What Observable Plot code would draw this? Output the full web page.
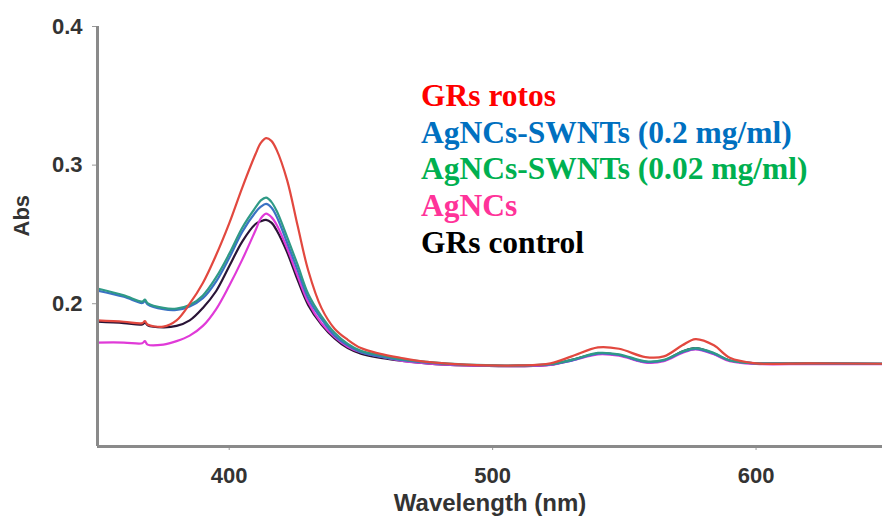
<!DOCTYPE html>
<html>
<head>
<meta charset="utf-8">
<script src="https://cdn.jsdelivr.net/npm/d3@7"></script>
<script src="https://cdn.jsdelivr.net/npm/@observablehq/plot@0.6"></script>
<style>
  html, body { margin: 0; padding: 0; background: #fff; }
  #wrap { position: relative; width: 882px; height: 519px; }
  #legend { position: absolute; left: 421px; top: 78px; font-family: "Liberation Serif", "Times New Roman", serif; font-weight: bold; font-size: 31.5px; line-height: 36.7px; white-space: nowrap; }
</style>
</head>
<body>
<div id="wrap">
  <div id="chart"></div>
  <div id="legend"></div>
</div>
<script>
// Series names and colours
const seriesNames = ["GRs rotos", "AgNCs-SWNTs (0.2 mg/ml)", "AgNCs-SWNTs (0.02 mg/ml)", "AgNCs", "GRs control"];
const legendColors = ["#ff0000", "#0070c0", "#00b050", "#ff3399", "#000000"];
const lineColors = ["#e2483f", "#3b72c4", "#2f9a86", "#e03ad8", "#2a1436"];

// Wavelength sample points (nm)
const wavelength = [350, 360, 367, 368, 369, 375, 380, 385, 390, 395, 400, 405, 410, 412, 414, 416, 418, 422, 426, 430, 435, 440, 445, 450, 457, 465, 475, 490, 510, 522, 530, 540, 548, 558, 565, 572, 577, 584, 590, 600, 620, 648];

// Absorbance values
const grsRotos   = [0.188, 0.187, 0.186, 0.1875, 0.185, 0.1835, 0.188, 0.200, 0.215, 0.235, 0.258, 0.284, 0.308, 0.316, 0.3195, 0.3175, 0.311, 0.289, 0.256, 0.224, 0.197, 0.182, 0.174, 0.168, 0.164, 0.161, 0.158, 0.156, 0.1555, 0.157, 0.162, 0.1685, 0.1675, 0.1615, 0.162, 0.170, 0.1745, 0.170, 0.161, 0.157, 0.157, 0.1567];
const swnt02     = [0.2095, 0.205, 0.2005, 0.202, 0.1995, 0.196, 0.1955, 0.198, 0.204, 0.216, 0.233, 0.252, 0.266, 0.270, 0.272, 0.2695, 0.263, 0.244, 0.224, 0.204, 0.189, 0.177, 0.170, 0.165, 0.162, 0.1595, 0.1575, 0.1558, 0.1553, 0.1563, 0.159, 0.164, 0.163, 0.158, 0.159, 0.165, 0.1675, 0.164, 0.159, 0.157, 0.157, 0.1567];
const swnt002    = [0.211, 0.206, 0.2015, 0.203, 0.2005, 0.197, 0.1965, 0.199, 0.206, 0.219, 0.236, 0.255, 0.2695, 0.2745, 0.2765, 0.2735, 0.267, 0.248, 0.228, 0.207, 0.191, 0.179, 0.171, 0.166, 0.163, 0.160, 0.158, 0.156, 0.1555, 0.1565, 0.1595, 0.1645, 0.1635, 0.1585, 0.1595, 0.1655, 0.168, 0.1645, 0.159, 0.157, 0.157, 0.1567];
const agncs      = [0.172, 0.172, 0.1715, 0.173, 0.1705, 0.1705, 0.173, 0.177, 0.184, 0.196, 0.213, 0.232, 0.253, 0.2615, 0.265, 0.2625, 0.257, 0.240, 0.220, 0.201, 0.186, 0.176, 0.169, 0.165, 0.162, 0.159, 0.157, 0.1555, 0.155, 0.1558, 0.159, 0.1635, 0.1625, 0.1575, 0.1585, 0.1645, 0.167, 0.1635, 0.1585, 0.1565, 0.1565, 0.1565];
const grsControl = [0.187, 0.186, 0.185, 0.1865, 0.1845, 0.183, 0.184, 0.188, 0.197, 0.209, 0.227, 0.245, 0.2575, 0.2595, 0.2605, 0.2585, 0.253, 0.237, 0.217, 0.199, 0.185, 0.175, 0.168, 0.164, 0.161, 0.159, 0.157, 0.1555, 0.155, 0.156, 0.1595, 0.164, 0.163, 0.158, 0.159, 0.1655, 0.168, 0.164, 0.159, 0.157, 0.157, 0.1567];

// Axis ticks and domains
const xTicks = [400, 500, 600];
const yTicks = [0.2, 0.3, 0.4];
const xDomain = [350, 648];
const yDomain = [0.097, 0.4];

const seriesValues = [grsRotos, swnt02, swnt002, agncs, grsControl];
// Draw order: black underneath first, red last on top
const drawOrder = [4, 3, 1, 2, 0];
const rows = [];
for (const s of drawOrder) {
  wavelength.forEach((w, i) => rows.push({series: seriesNames[s], wl: w, abs: seriesValues[s][i]}));
}

const axisFont = {fontFamily: "Liberation Sans, Arial, sans-serif", fontWeight: "bold", fill: "#333"};

const chart = Plot.plot({
  width: 882,
  height: 519,
  marginLeft: 97,
  marginRight: 0,
  marginTop: 26,
  marginBottom: 73,
  style: {fontFamily: "Liberation Sans, Arial, sans-serif", background: "#fff"},
  x: {domain: xDomain},
  y: {domain: yDomain},
  color: {domain: seriesNames, range: lineColors},
  marks: [
    Plot.axisX({ticks: xTicks, tickSize: 4, tickPadding: 17, fontSize: 22, ...axisFont, stroke: "#999", label: null}),
    Plot.axisY({ticks: yTicks, tickSize: 5, tickPadding: 10, fontSize: 22, ...axisFont, stroke: "#999", tickFormat: d => d.toFixed(1), label: null}),
    Plot.line(rows, {x: "wl", y: "abs", z: "series", stroke: "series", strokeWidth: 2.2, curve: "catmull-rom"}),
    Plot.ruleX([xDomain[0]], {stroke: "#8a8a8a", strokeWidth: 3}),
    Plot.ruleY([yDomain[0]], {stroke: "#8a8a8a", strokeWidth: 3}),
    Plot.text(["Abs"], {frameAnchor: "left", rotate: -90, dx: -76, fontSize: 22, ...axisFont}),
    Plot.text(["Wavelength (nm)"], {frameAnchor: "bottom", dy: 64, fontSize: 24, ...axisFont})
  ]
});
document.getElementById("chart").appendChild(chart);

const legend = document.getElementById("legend");
seriesNames.forEach((name, i) => {
  const d = document.createElement("div");
  d.textContent = name;
  d.style.color = legendColors[i];
  legend.appendChild(d);
});
</script>
</body>
</html>
